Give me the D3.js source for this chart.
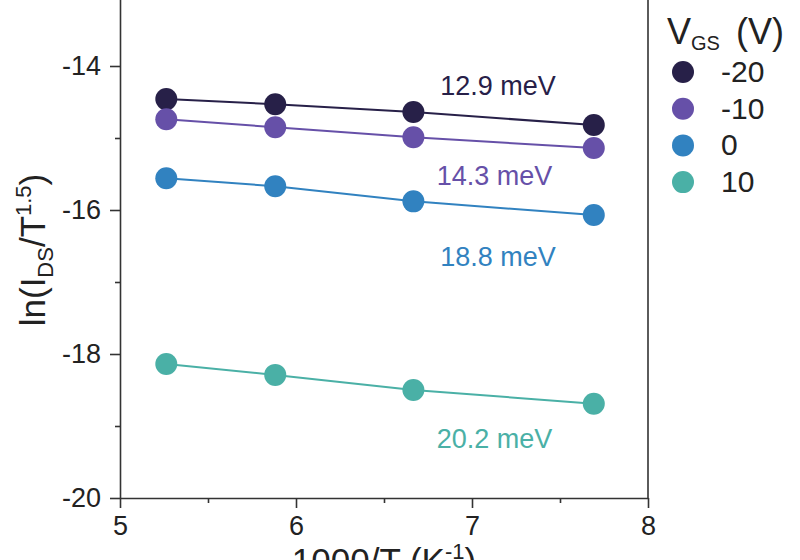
<!DOCTYPE html>
<html>
<head>
<meta charset="utf-8">
<script src="https://cdn.jsdelivr.net/npm/d3@7"></script>
<style>
  body { margin: 0; background: #fff; }
  svg { display: block; font-family: "Liberation Sans", Arial, sans-serif; }
</style>
</head>
<body>
<div id="chart"></div>
<script>
// -----------------------------
// DATA
// -----------------------------
const invT = [5.263, 5.882, 6.667, 7.692];            // 1000/T for T = 190, 170, 150, 130 K
const vgsLabels = ["-20", "-10", "0", "10"];
const colors = ["#272048", "#6650a8", "#3182c0", "#4ab0a6"];
const lnVgsM20 = [-14.46, -14.53, -14.64, -14.82];
const lnVgsM10 = [-14.74, -14.85, -14.99, -15.14];
const lnVgs0   = [-15.56, -15.67, -15.88, -16.07];
const lnVgs10  = [-18.14, -18.29, -18.50, -18.69];
const energyLabels = ["12.9 meV", "14.3 meV", "18.8 meV", "20.2 meV"];
const energyLabelPos = [[6.82, -14.4], [6.80, -15.65], [6.82, -16.78], [6.80, -19.3]]; // data coords
const xTicks = [5, 6, 7, 8];
const yTicks = [-20, -18, -16, -14];

const seriesValues = [lnVgsM20, lnVgsM10, lnVgs0, lnVgs10];
const series = seriesValues.map((vals, i) => ({
    name: vgsLabels[i],
    color: colors[i],
    points: vals.map((v, j) => ({ x: invT[j], y: v }))
}));

// -----------------------------
// SVG + SCALES
// -----------------------------
const width = 800, height = 560;
const svg = d3.select("#chart").append("svg")
    .attr("width", width)
    .attr("height", height);

const x = d3.scaleLinear().domain([5, 8]).range([120, 648]);
const y = d3.scaleLinear().domain([-20, -13]).range([498, -6]);

const axisColor = "#333";
const tickFont = "27px";

// right frame line
svg.append("line")
    .attr("x1", x(8)).attr("x2", x(8))
    .attr("y1", y(-13)).attr("y2", y(-20))
    .attr("stroke", axisColor).attr("stroke-width", 1.6);

// minor ticks
svg.append("g")
    .attr("transform", `translate(0,${y(-20)})`)
    .call(d3.axisBottom(x).tickValues([5.5, 6.5, 7.5]).tickFormat("").tickSize(5).tickSizeOuter(0))
    .call(g => g.select(".domain").remove())
    .call(g => g.selectAll("line").attr("stroke", axisColor).attr("stroke-width", 1.6));

svg.append("g")
    .attr("transform", `translate(${x(5)},0)`)
    .call(d3.axisLeft(y).tickValues([-19, -17, -15]).tickFormat("").tickSize(5).tickSizeOuter(0))
    .call(g => g.select(".domain").remove())
    .call(g => g.selectAll("line").attr("stroke", axisColor).attr("stroke-width", 1.6));

// major axes
svg.append("g")
    .attr("transform", `translate(0,${y(-20)})`)
    .call(d3.axisBottom(x).tickValues(xTicks).tickFormat(d3.format("d")).tickSize(10).tickSizeOuter(0).tickPadding(8))
    .call(g => g.select(".domain").attr("stroke", axisColor).attr("stroke-width", 1.6))
    .call(g => g.selectAll("line").attr("stroke", axisColor).attr("stroke-width", 1.6))
    .call(g => g.selectAll("text")
        .attr("fill", "#222")
        .style("font-size", tickFont)
        .style("font-family", "Liberation Sans, Arial, sans-serif"));

svg.append("g")
    .attr("transform", `translate(${x(5)},0)`)
    .call(d3.axisLeft(y).tickValues(yTicks).tickSize(10).tickSizeOuter(0).tickPadding(9))
    .call(g => g.select(".domain").attr("stroke", axisColor).attr("stroke-width", 1.6))
    .call(g => g.selectAll("line").attr("stroke", axisColor).attr("stroke-width", 1.6))
    .call(g => g.selectAll("text")
        .attr("fill", "#222")
        .text(d => String(d))
        .style("font-size", tickFont)
        .style("font-family", "Liberation Sans, Arial, sans-serif"));

// -----------------------------
// LINES + POINTS
// -----------------------------
const line = d3.line().x(d => x(d.x)).y(d => y(d.y));

const sg = svg.append("g").selectAll("g")
    .data(series)
    .join("g");

sg.append("path")
    .attr("d", d => line(d.points))
    .attr("fill", "none")
    .attr("stroke", d => d.color)
    .attr("stroke-width", 2);

sg.selectAll("circle")
    .data(d => d.points.map(p => ({ ...p, color: d.color })))
    .join("circle")
    .attr("cx", d => x(d.x))
    .attr("cy", d => y(d.y))
    .attr("r", 11)
    .attr("fill", d => d.color);

// activation energy labels
svg.append("g").selectAll("text")
    .data(energyLabels)
    .join("text")
    .attr("x", (d, i) => x(energyLabelPos[i][0]))
    .attr("y", (d, i) => y(energyLabelPos[i][1]))
    .attr("fill", (d, i) => colors[i])
    .style("font-size", "27px")
    .text(d => d);

// -----------------------------
// AXIS TITLES
// -----------------------------
const yTitle = svg.append("text")
    .attr("transform", `translate(45,250) rotate(-90)`)
    .attr("text-anchor", "middle")
    .attr("fill", "#222")
    .style("font-size", "35px");
yTitle.append("tspan").text("ln(I");
yTitle.append("tspan").attr("dy", 8).style("font-size", "22px").text("DS");
yTitle.append("tspan").attr("dy", -8).text("/T");
yTitle.append("tspan").attr("dy", -14).style("font-size", "22px").text("1.5");
yTitle.append("tspan").attr("dy", 14).text(")");

const xTitle = svg.append("text")
    .attr("x", 384)
    .attr("y", 573)
    .attr("text-anchor", "middle")
    .attr("fill", "#222")
    .style("font-size", "35px");
xTitle.append("tspan").text("1000/T (K");
xTitle.append("tspan").attr("dy", -14).style("font-size", "22px").text("-1");
xTitle.append("tspan").attr("dy", 14).text(")");

// -----------------------------
// LEGEND
// -----------------------------
const legTitle = svg.append("text")
    .attr("x", 667)
    .attr("y", 44)
    .attr("fill", "#222")
    .style("font-size", "36px");
legTitle.append("tspan").text("V");
legTitle.append("tspan").attr("dy", 6).style("font-size", "20px").text("GS");
legTitle.append("tspan").attr("dy", -6).attr("dx", 16).text("(V)");

const leg = svg.append("g").selectAll("g")
    .data(series)
    .join("g")
    .attr("transform", (d, i) => `translate(683,${72 + i * 36.7})`);

leg.append("circle")
    .attr("r", 11)
    .attr("fill", d => d.color);

leg.append("text")
    .attr("x", 38)
    .attr("y", 10)
    .attr("fill", "#222")
    .style("font-size", "30px")
    .text(d => d.name);
</script>
</body>
</html>
